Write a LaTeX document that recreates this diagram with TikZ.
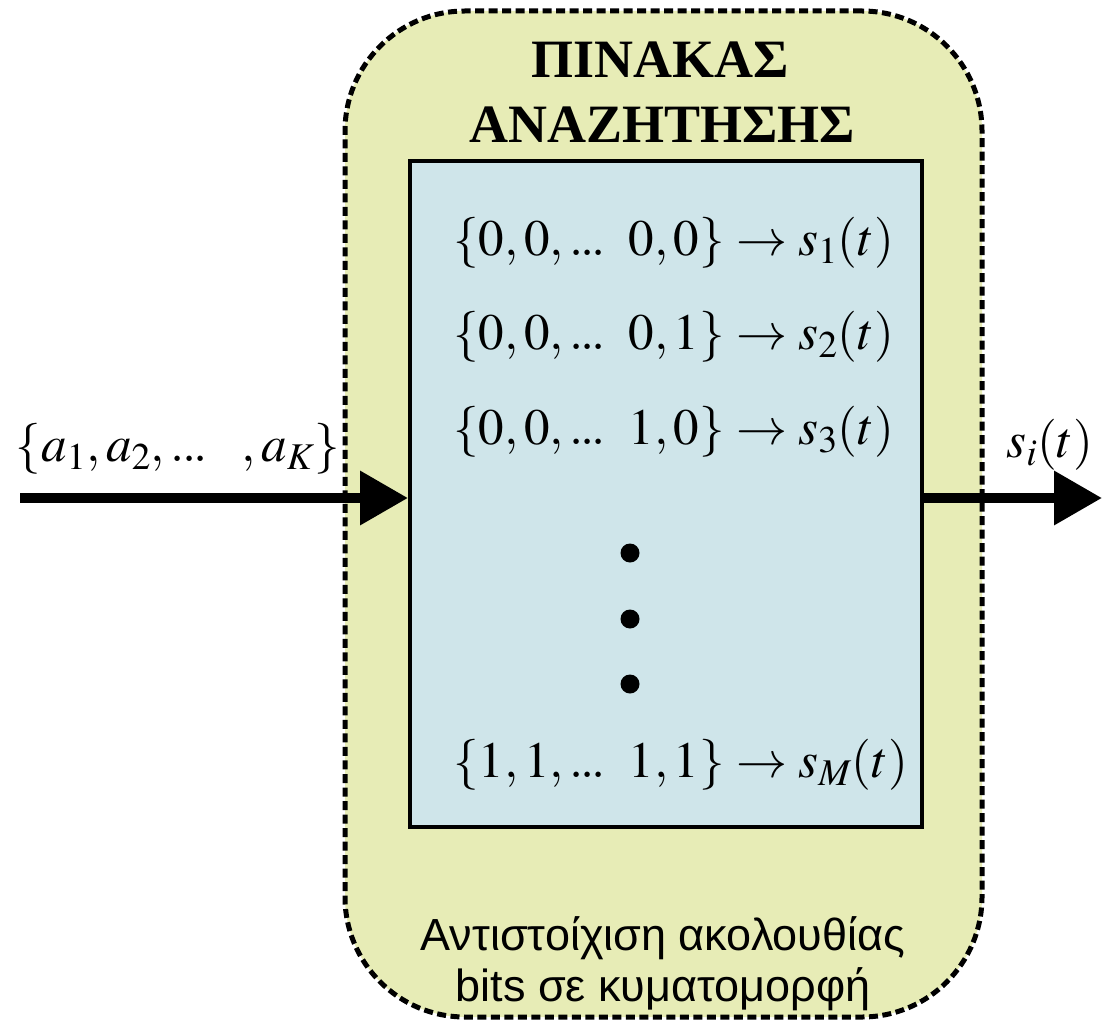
\documentclass[tikz,border=0pt]{standalone}
\usepackage{mathptmx}
\usepackage{fontspec}
\setmainfont{Liberation Serif}
\newfontfamily\labelsans{Liberation Sans}
\usetikzlibrary{arrows.meta}
\definecolor{outerfill}{RGB}{231,236,182}
\definecolor{innerfill}{RGB}{207,229,234}
\newcommand{\tdots}{{.}\mkern-1mu{.}\mkern-1mu{.}}
\tikzset{
  outerbox/.style={draw=black, line width=5pt, dash pattern=on 9pt off 4.5pt, fill=outerfill, rounded corners=120pt, minimum width=637pt, minimum height=1006pt, inner sep=0pt},
  innerbox/.style={draw=black, line width=4pt, fill=innerfill, minimum width=512pt, minimum height=666pt, inner sep=0pt},
  bigarrow/.style={line width=10pt, -{Triangle[length=48pt,width=52pt]}, shorten >=0pt},
  mapline/.style={anchor=west, inner sep=0pt, font=\fontsize{51}{60}\selectfont},
  titletext/.style={anchor=base, inner sep=0pt, font=\fontsize{54}{62}\selectfont\bfseries},
  captext/.style={anchor=base, inner sep=0pt, font=\fontsize{45}{52}\selectfont\labelsans},
  iolabel/.style={anchor=center, inner sep=0pt, font=\fontsize{51}{60}\selectfont},
  bigdot/.style={circle, fill=black, minimum size=19pt, inner sep=0pt}
}
\begin{document}
\begin{tikzpicture}[x=1pt,y=-1pt]
\useasboundingbox (0,0) rectangle (1102,1024);
\node[outerbox] (outer) at (663.5,514) {};
\node[innerbox] (inner) at (666,494) {};
\node[titletext] (t1) at (660,78) {ΠΙΝΑΚΑΣ};
\node[titletext] (t2) at (662,143) {ΑΝΑΖΗΤΗΣΗΣ};
\node[mapline] (m1) at (453,243) {$\{0,0,\tdots\;\;0,0\}\rightarrow s_1(t)$};
\node[mapline] (m2) at (453,337) {$\{0,0,\tdots\;\;0,1\}\rightarrow s_2(t)$};
\node[mapline] (m3) at (453,432) {$\{0,0,\tdots\;\;1,0\}\rightarrow s_3(t)$};
\node[bigdot] (d1) at (630,553) {};
\node[bigdot] (d2) at (630,619) {};
\node[bigdot] (d3) at (630,684) {};
\node[mapline] (m4) at (453,765) {$\{1,1,\tdots\;\;1,1\}\rightarrow s_M(t)$};
\node[captext] (c1) at (663,950) {Αντιστοίχιση ακολουθίας};
\node[captext] (c2) at (663,1001) {bits σε κυματομορφή};
\node[iolabel] (inlabel) at (178,449) {$\{a_1,a_2,\tdots\;\;\;,a_K\}$};
\node[iolabel] (outlabel) at (1050,445) {$s_i(t)$};
\coordinate (src) at (20,498);
\coordinate (dst) at (1102,498);
\draw[bigarrow] (src) -- (src -| inner.west);
\draw[bigarrow] (dst -| inner.east) -- (dst);
\end{tikzpicture}
\end{document}
